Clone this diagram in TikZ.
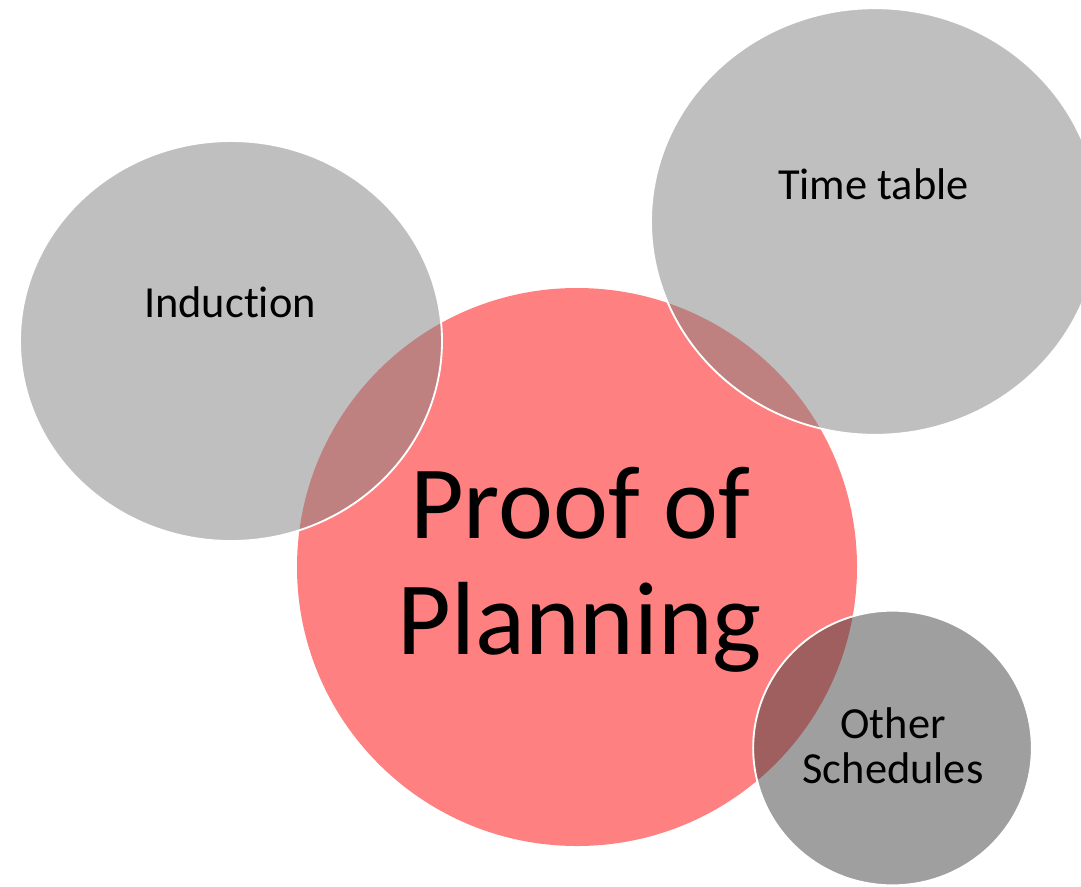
\documentclass[tikz,border=0pt]{standalone}
\usepackage{fontspec}
\setmainfont{Carlito}[Ligatures={NoCommon}]
\usetikzlibrary{shapes.geometric}
\definecolor{planpink}{RGB}{255,128,128}
\definecolor{midgray}{RGB}{128,128,128}
\definecolor{darkgray}{RGB}{64,64,64}
\tikzset{
  bubble/.style={ellipse, inner sep=0pt, outer sep=0pt},
  centre/.style={bubble, fill=planpink, draw=none},
  side/.style={bubble, fill=midgray, fill opacity=0.5, draw=white, line width=1.4pt},
  sidedark/.style={side, fill=darkgray},
  smalltext/.style={anchor=base, inner sep=0pt, font=\fontsize{33.3}{34}\selectfont},
  bigtext/.style={anchor=base, inner sep=0pt, font=\fontsize{78}{87}\selectfont}
}
\begin{document}
\begin{tikzpicture}[x=0.75pt, y=-0.75pt]
  \useasboundingbox (0,0) rectangle (1081,886);
  % central circle
  \node[centre, minimum width=420pt, minimum height=418.5pt] (proof) at (577,567) {};
  % surrounding bubbles, drawn translucent over the centre
  \node[side, minimum width=316.5pt, minimum height=300pt] (induction) at (231,341) {};
  \node[side, minimum width=336pt, minimum height=320pt] (timetable) at (875,221.5) {};
  \node[sidedark, minimum width=209pt, minimum height=206pt] (other) at (892.5,748) {};
  % labels
  \node[bigtext] (proofA) at (580,538) {Proof of};
  \node[bigtext] (proofB) at (580,654) {Planning};
  \node[smalltext] (indlabel) at (230,317) {Induction};
  \node[smalltext] (ttlabel) at (873.5,199) {Time table};
  \node[smalltext] (otherA) at (893,738) {Other};
  \node[smalltext] (otherB) at (893,783) {Schedules};
\end{tikzpicture}
\end{document}
